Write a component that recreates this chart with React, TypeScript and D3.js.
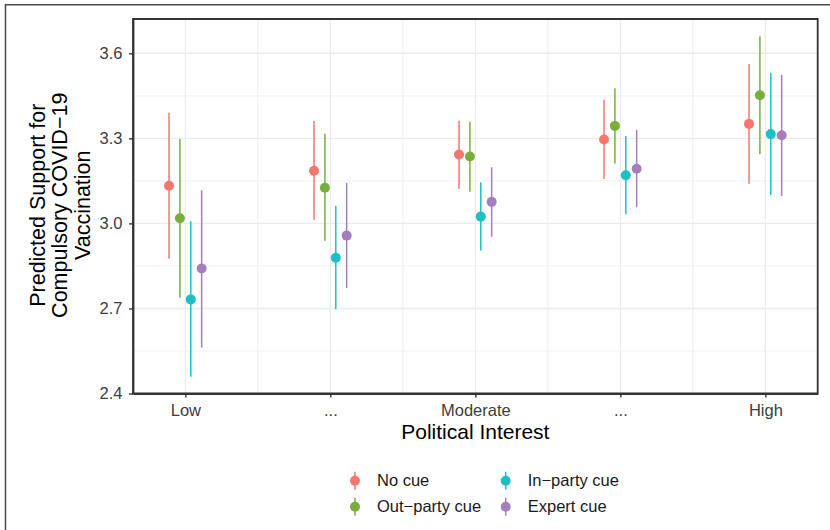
import React, { useEffect, useRef } from 'react';
import * as d3 from 'd3';

// Political interest levels (x axis)
const levels = ['Low', '...', 'Moderate', '...', 'High'];
const cues = ['No cue', 'Out\u2212party cue', 'In\u2212party cue', 'Expert cue'];
const colors = ['#F5766D', '#79AE3E', '#1DBFC4', '#A57FBC'];

// predicted values, lower and upper bounds, one row per cue, one column per level
const estimate = [
  [3.133, 3.186, 3.243, 3.296, 3.351],
  [3.018, 3.126, 3.236, 3.344, 3.452],
  [2.732, 2.879, 3.024, 3.170, 3.315],
  [2.841, 2.957, 3.076, 3.193, 3.311],
];
const lower = [
  [2.875, 3.013, 3.122, 3.157, 3.140],
  [2.738, 2.939, 3.112, 3.211, 3.244],
  [2.459, 2.697, 2.904, 3.032, 3.100],
  [2.562, 2.772, 2.953, 3.057, 3.097],
];
const upper = [
  [3.390, 3.361, 3.362, 3.436, 3.562],
  [3.298, 3.316, 3.359, 3.477, 3.660],
  [3.008, 3.061, 3.145, 3.308, 3.531],
  [3.117, 3.143, 3.198, 3.330, 3.524],
];
const yTicks = [2.4, 2.7, 3.0, 3.3, 3.6];
const yMinor = [2.55, 2.85, 3.15, 3.45];

const App: React.FC = () => {
  const svgRef = useRef<SVGSVGElement | null>(null);

  useEffect(() => {
    if (!svgRef.current) return;
    const width = 830;
    const height = 530;
    const panel = { left: 133, right: 817.7, top: 19, bottom: 393.5 };
    const font = "'Liberation Sans', Arial, Helvetica, sans-serif";

    const svg = d3.select(svgRef.current)
      .attr('width', width)
      .attr('height', height)
      .style('font-family', font);
    svg.selectAll('*').remove();

    const x = d3.scalePoint<number>()
      .domain(d3.range(levels.length))
      .range([panel.left, panel.right])
      .padding(0.361);
    const y = d3.scaleLinear()
      .domain([2.4, 3.721])
      .range([panel.bottom, panel.top]);

    const step = x.step();
    const dodge = 0.3 * step;
    const offset = (j: number) => (j - (cues.length - 1) / 2) * dodge / cues.length;

    // outer frame (cropped)
    svg.append('path')
      .attr('d', `M5.5,${height + 2} V4.7 H${width + 2}`)
      .attr('fill', 'none')
      .attr('stroke', '#4a4a4a')
      .attr('stroke-width', 1.5);

    // panel background + grid
    svg.append('rect')
      .attr('x', panel.left).attr('y', panel.top)
      .attr('width', panel.right - panel.left)
      .attr('height', panel.bottom - panel.top)
      .attr('fill', '#fff');

    const grid = svg.append('g');
    grid.selectAll('line.ymin')
      .data(yMinor)
      .join('line')
      .attr('x1', panel.left).attr('x2', panel.right)
      .attr('y1', d => y(d)).attr('y2', d => y(d))
      .attr('stroke', '#EBEBEB').attr('stroke-width', 0.7);
    grid.selectAll('line.xmin')
      .data(d3.range(levels.length - 1))
      .join('line')
      .attr('x1', d => x(d)! + step / 2).attr('x2', d => x(d)! + step / 2)
      .attr('y1', panel.top).attr('y2', panel.bottom)
      .attr('stroke', '#EBEBEB').attr('stroke-width', 0.9);
    grid.selectAll('line.ymaj')
      .data(yTicks)
      .join('line')
      .attr('x1', panel.left).attr('x2', panel.right)
      .attr('y1', d => y(d)).attr('y2', d => y(d))
      .attr('stroke', '#EBEBEB').attr('stroke-width', 1.4);
    grid.selectAll('line.xmaj')
      .data(d3.range(levels.length))
      .join('line')
      .attr('x1', d => x(d)!).attr('x2', d => x(d)!)
      .attr('y1', panel.top).attr('y2', panel.bottom)
      .attr('stroke', '#EBEBEB').attr('stroke-width', 1.2);

    // error bars and points
    cues.forEach((_, j) => {
      const g = svg.append('g');
      g.selectAll('line')
        .data(d3.range(levels.length))
        .join('line')
        .attr('x1', i => x(i)! + offset(j))
        .attr('x2', i => x(i)! + offset(j))
        .attr('y1', i => y(lower[j][i]))
        .attr('y2', i => y(upper[j][i]))
        .attr('stroke', colors[j])
        .attr('stroke-width', 1.5);
      g.selectAll('circle')
        .data(d3.range(levels.length))
        .join('circle')
        .attr('cx', i => x(i)! + offset(j))
        .attr('cy', i => y(estimate[j][i]))
        .attr('r', 5)
        .attr('fill', colors[j]);
    });

    // axes
    const yAxis = svg.append('g')
      .attr('transform', `translate(${panel.left},0)`)
      .call(d3.axisLeft(y).tickValues(yTicks).tickFormat(d3.format('.1f'))
        .tickSize(4).tickSizeOuter(0).tickPadding(6.5));
    const xAxis = svg.append('g')
      .attr('transform', `translate(0,${panel.bottom})`)
      .call(d3.axisBottom(x).tickFormat(i => levels[i])
        .tickSize(4).tickSizeOuter(0).tickPadding(6.5));
    [yAxis, xAxis].forEach(ax => {
      ax.select('.domain').attr('stroke', '#333').attr('stroke-width', 1.8);
      ax.selectAll('.tick line').attr('stroke', '#333').attr('stroke-width', 1.4);
      ax.selectAll('.tick text')
        .attr('fill', '#3d3d3d')
        .style('font-size', '16.5px')
        .style('font-family', font);
    });

    // panel border, drawn last
    const { left, right, top, bottom } = panel;
    svg.append('path')
      .attr('d', `M${left},${top} H${right} V${bottom} H${left} Z`)
      .attr('fill', 'none')
      .attr('stroke', '#333333')
      .attr('stroke-width', 1.8);

    // axis titles
    svg.append('text')
      .attr('x', (panel.left + panel.right) / 2)
      .attr('y', 438.5)
      .attr('text-anchor', 'middle')
      .style('font-size', '21px')
      .text('Political Interest');

    const yTitle = ['Predicted Support for', 'Compulsory COVID\u221219', 'Vaccination'];
    const cy = (panel.top + panel.bottom) / 2 - 1;
    svg.append('g')
      .selectAll('text')
      .data(yTitle)
      .join('text')
      .attr('transform', (_, k) => `translate(${44.5 + k * 22.5},${cy}) rotate(-90)`)
      .attr('text-anchor', 'middle')
      .style('font-size', '21.5px')
      .text(d => d);

    // legend
    const legendX = [355, 505.7];
    const legendY = [480.7, 506.7];
    const order = [0, 1, 2, 3];
    const legend = svg.append('g')
      .selectAll('g')
      .data(order)
      .join('g')
      .attr('transform', j => `translate(${legendX[Math.floor(j / 2)]},${legendY[j % 2]})`);
    legend.append('line')
      .attr('y1', -9).attr('y2', 9)
      .attr('stroke', j => colors[j])
      .attr('stroke-width', 1.5);
    legend.append('circle')
      .attr('r', 5)
      .attr('fill', j => colors[j]);
    legend.append('text')
      .attr('x', 22)
      .attr('dy', '0.35em')
      .style('font-size', '16.5px')
      .attr('fill', '#1a1a1a')
      .text(j => cues[j]);
  }, []);

  return (
    <svg ref={svgRef} style={{ position: 'absolute', left: 0, top: 0 }}></svg>
  );
};

export default App;
